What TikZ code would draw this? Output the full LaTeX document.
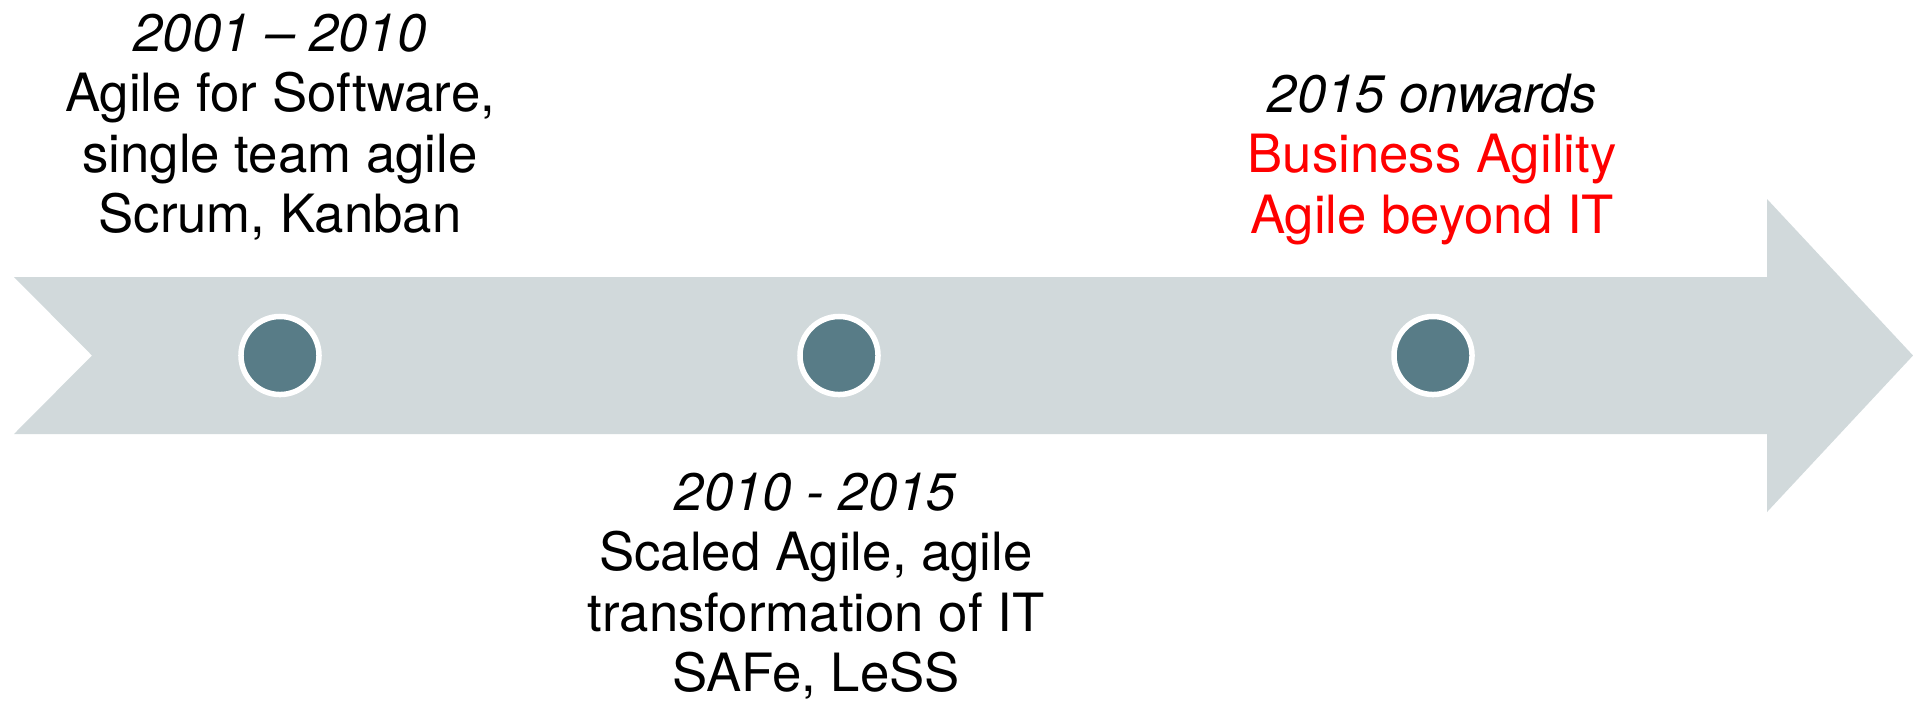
\documentclass[tikz,border=0pt]{standalone}
\usepackage{fontspec}
\setmainfont{TeX Gyre Heros}
\usepackage{xcolor}
\usepackage{tikz}

\definecolor{bandgray}{HTML}{D1D9DB}
\definecolor{dotblue}{HTML}{587C87}
\definecolor{agilered}{HTML}{FF0000}

\begin{document}
\begin{tikzpicture}[x=0.01cm,y=-0.01cm,
    dot/.style={circle,fill=dotblue,draw=white,line width=0.055cm,minimum size=0.78cm,inner sep=0pt},
    era/.style={align=center,inner sep=0pt,anchor=north,font=\fontsize{15}{17.2}\selectfont}]
\useasboundingbox (0,0) rectangle (1913,705);

%timeline band with notched tail
\fill[bandgray] (14,277)--(1767,277)--(1767,199)--(1913,355.5)--(1767,512)
    --(1767,434)--(14,434)--(92,355.5)--cycle;

%dots
\node[dot] (d1) at (280,355.5) {};
\node[dot] (d2) at (839,355.5) {};
\node[dot] (d3) at (1433,355.5) {};

%eras
\node[era] (e1) at (280,13) {\textit{2001 -- 2010}\\Agile for Software,\\single team agile\\Scrum, Kanban};
\node[era] (e2) at (816,472) {\textit{2010 - 2015}\\Scaled Agile, agile\\transformation of IT\\SAFe, LeSS};
\node[era] (e3) at (1432,73) {\textit{2015 onwards}\\\textcolor{agilered}{Business Agility}\\\textcolor{agilered}{Agile beyond IT}};

\end{tikzpicture}
\end{document}
